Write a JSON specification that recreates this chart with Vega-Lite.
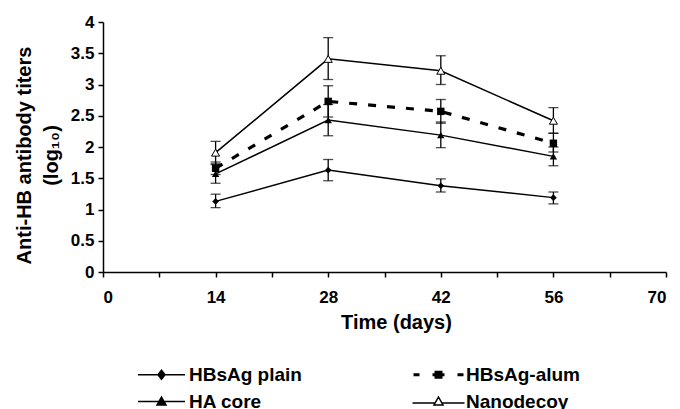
{
  "$schema": "https://vega.github.io/schema/vega-lite/v6.json",
  "width": 563,
  "height": 250,
  "autosize": {"type": "none"},
  "padding": {"left": 103, "top": 22, "right": 14, "bottom": 137},
  "background": "white",
  "config": {
    "view": {"stroke": null},
    "font": "Liberation Sans",
    "axis": {
      "grid": false,
      "domainColor": "black",
      "domainWidth": 1.5,
      "tickColor": "black",
      "tickWidth": 1.5,
      "tickSize": 5,
      "labelOverlap": false,
      "labelSeparation": -30,
      "labelFont": "Liberation Sans",
      "labelFontWeight": "bold",
      "labelFontSize": 17,
      "labelColor": "black",
      "titleFont": "Liberation Sans",
      "titleFontWeight": "bold",
      "titleFontSize": 20,
      "titleColor": "black"
    },
    "axisY": {"labelOverlap": false, "labelSeparation": -30},
    "axisQuantitative": {"labelOverlap": false}
  },
  "data": {
    "values": [
      {"series": "HBsAg plain", "day": 14, "mean": 1.13, "low": 1.03, "high": 1.245},
      {"series": "HBsAg plain", "day": 28, "mean": 1.63, "low": 1.46, "high": 1.8},
      {"series": "HBsAg plain", "day": 42, "mean": 1.38, "low": 1.28, "high": 1.49},
      {"series": "HBsAg plain", "day": 56, "mean": 1.19, "low": 1.09, "high": 1.28},
      {"series": "HBsAg-alum", "day": 14, "mean": 1.66, "low": 1.56, "high": 1.76},
      {"series": "HBsAg-alum", "day": 28, "mean": 2.73, "low": 2.48, "high": 2.98},
      {"series": "HBsAg-alum", "day": 42, "mean": 2.57, "low": 2.38, "high": 2.76},
      {"series": "HBsAg-alum", "day": 56, "mean": 2.06, "low": 1.92, "high": 2.22},
      {"series": "HA core", "day": 14, "mean": 1.57, "low": 1.42, "high": 1.72},
      {"series": "HA core", "day": 28, "mean": 2.43, "low": 2.18, "high": 2.68},
      {"series": "HA core", "day": 42, "mean": 2.19, "low": 1.99, "high": 2.4},
      {"series": "HA core", "day": 56, "mean": 1.85, "low": 1.7, "high": 2.0},
      {"series": "Nanodecoy", "day": 14, "mean": 1.91, "low": 1.73, "high": 2.09},
      {"series": "Nanodecoy", "day": 28, "mean": 3.41, "low": 3.08, "high": 3.75},
      {"series": "Nanodecoy", "day": 42, "mean": 3.22, "low": 3.0, "high": 3.46},
      {"series": "Nanodecoy", "day": 56, "mean": 2.42, "low": 2.22, "high": 2.63}
    ]
  },
  "encoding": {
    "x": {
      "field": "day",
      "type": "quantitative",
      "scale": {"domain": [0, 70], "nice": false, "zero": true},
      "axis": {
        "title": "Time (days)",
        "values": [0, 7, 14, 21, 28, 35, 42, 49, 56, 63, 70],
        "labelExpr": "datum.value % 14 === 0 ? datum.label : ''",
        "labelPadding": 12,
        "labelOverlap": false,
        "titleX": 293,
        "titleY": 50,
        "titleBaseline": "middle"
      }
    },
    "y": {
      "field": "mean",
      "type": "quantitative",
      "scale": {"domain": [0, 4], "nice": false},
      "axis": {"title": ["Anti-HB antibody titers", "(log₁₀)"], "values": [0, 0.5, 1, 1.5, 2, 2.5, 3, 3.5, 4], "format": ".1~f", "labelOverlap": false, "labelSeparation": -30, "labelPadding": 4, "titleX": -79, "titleY": 133, "titleAngle": -90, "titleBaseline": "middle", "titleAlign": "center", "titleLineHeight": 27}
    }
  },
  "layer": [
    {
      "mark": {"type": "rule", "color": "black", "strokeWidth": 1.3},
      "encoding": {
        "y": {"field": "low", "type": "quantitative"},
        "y2": {"field": "high"}
      }
    },
    {
      "mark": {"type": "tick", "color": "black", "orient": "horizontal", "size": 10, "thickness": 1.3},
      "encoding": {"y": {"field": "low", "type": "quantitative"}}
    },
    {
      "mark": {"type": "tick", "color": "black", "orient": "horizontal", "size": 10, "thickness": 1.3},
      "encoding": {"y": {"field": "high", "type": "quantitative"}}
    },
    {
      "transform": [{"filter": "datum.series !== 'HBsAg-alum'"}],
      "mark": {"type": "line", "color": "black", "strokeWidth": 1.5},
      "encoding": {"detail": {"field": "series"}}
    },
    {
      "transform": [{"filter": "datum.series === 'HBsAg-alum'"}],
      "mark": {"type": "line", "color": "black", "strokeWidth": 3.2, "strokeDash": [8, 11]},
      "encoding": {}
    },
    {
      "transform": [{"filter": "datum.series === 'HBsAg plain'"}],
      "mark": {"type": "point", "shape": "diamond", "filled": true, "color": "black", "opacity": 1, "size": 45},
      "encoding": {}
    },
    {
      "transform": [{"filter": "datum.series === 'HBsAg-alum'"}],
      "mark": {"type": "point", "shape": "square", "filled": true, "color": "black", "opacity": 1, "size": 55},
      "encoding": {}
    },
    {
      "transform": [{"filter": "datum.series === 'HA core'"}],
      "mark": {"type": "point", "shape": "triangle-up", "filled": true, "color": "black", "opacity": 1, "size": 55},
      "encoding": {}
    },
    {
      "transform": [{"filter": "datum.series === 'Nanodecoy'"}],
      "mark": {"type": "point", "shape": "triangle-up", "fill": "white", "stroke": "black", "strokeWidth": 1, "opacity": 1, "size": 65},
      "encoding": {}
    },
    {
      "transform": [{"filter": "datum.day > 100"}],
      "mark": {"type": "point", "opacity": 1, "size": 100},
      "encoding": {
        "shape": {
          "field": "series",
          "type": "nominal",
          "scale": {
            "domain": ["HBsAg plain", "HA core", "HBsAg-alum", "Nanodecoy"],
            "range": [
              "M-4.7,0H4.7M0,-0.9L0.7,0L0,0.9L-0.7,0Z",
              "M-4.7,0H4.7M0,-0.9L0.9,0.7L-0.9,0.7Z",
              "M-5,0H-3.8M-1.2,0H-0.5M0.5,0H1.2M3.8,0H5M-0.5,-0.5H0.5V0.5H-0.5Z",
              "M-5.2,0.3H-0.68M0.68,0.3H5.2M0,-0.9L0.9,0.7L-0.9,0.7Z"
            ]
          },
          "legend": {
            "title": null,
            "orient": "none",
            "legendX": 49,
            "legendY": 343,
            "columns": 2,
            "columnPadding": 105,
            "rowPadding": 7,
            "symbolSize": 100,
            "symbolStrokeColor": "black",
            "symbolOpacity": 1,
            "labelOffset": 18,
            "labelFont": "Liberation Sans",
            "labelFontWeight": "bold",
            "labelFontSize": 19,
            "labelColor": "black",
            "labelLimit": 300
          }
        },
        "fill": {
          "field": "series",
          "type": "nominal",
          "scale": {"domain": ["HBsAg plain", "HA core", "HBsAg-alum", "Nanodecoy"], "range": ["black", "black", "black", "white"]}
        },
        "stroke": {
          "field": "series",
          "type": "nominal",
          "scale": {"domain": ["HBsAg plain", "HA core", "HBsAg-alum", "Nanodecoy"], "range": ["black", "black", "black", "black"]}
        },
        "strokeWidth": {
          "field": "series",
          "type": "nominal",
          "scale": {"type": "ordinal", "domain": ["HBsAg plain", "HA core", "HBsAg-alum", "Nanodecoy"], "range": [1.5, 1.5, 3, 1.5]}
        }
      }
    }
  ]
}
